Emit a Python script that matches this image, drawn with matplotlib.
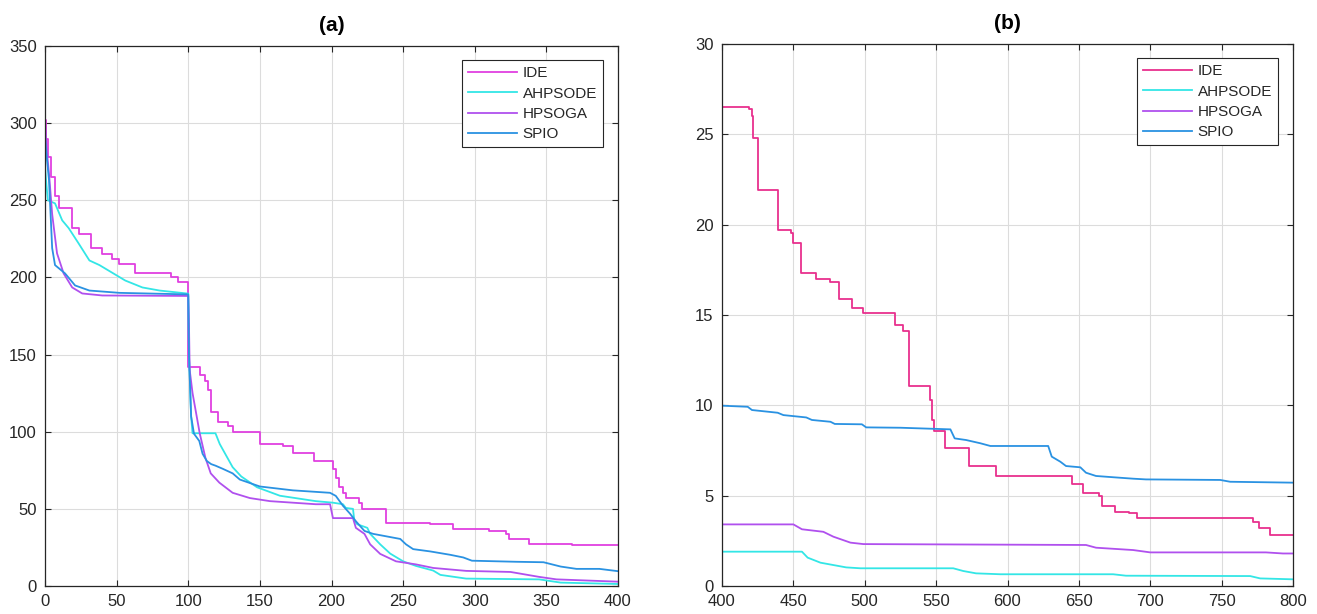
import matplotlib
matplotlib.use("Agg")
import matplotlib.pyplot as plt

plt.rcParams['font.family'] = ['Liberation Sans', 'DejaVu Sans']

series_names = ["IDE", "AHPSODE", "HPSOGA", "SPIO"]

# ---- panel (a): iterations 0-400 ----
ide_a_x = [0, 1, 2, 4, 7, 10, 19, 24, 32, 40, 47, 52, 63, 88, 93, 100, 108, 112, 114,
           116, 121, 128, 131, 150, 166, 173, 188, 201, 203, 205, 208, 210, 219, 221,
           238, 269, 285, 310, 322, 324, 338, 368, 400]
ide_a_y = [302, 290, 278, 265, 253, 245, 232, 228, 219, 215, 212, 209, 203, 200, 197,
           142, 137, 133, 127, 113, 106, 104, 100, 92, 91, 86, 81, 76, 70, 64, 60, 57,
           54, 50, 41, 40, 37, 35.5, 33.7, 30.4, 27.2, 26.4, 26.4]

ahp_a_x = [0, 1, 2, 7, 12, 16.5, 23.5, 31, 38, 47, 56, 68, 80, 100, 100.5, 102, 103,
           119, 122, 131, 137, 148, 164, 189, 201, 208, 210, 215, 216, 218, 225, 227,
           234, 241, 250, 259, 271, 276, 294, 345, 360, 400]
ahp_a_y = [272, 260, 250, 248, 237, 232, 222, 211, 208, 203, 198, 193.5, 191.5, 189.5,
           150, 110, 99, 99, 92, 77, 71, 64, 58.5, 55, 54, 53, 50.6, 50, 42, 40, 37.7,
           33.8, 27, 21, 16, 13, 10, 7.2, 4.8, 4.3, 2.2, 1.3]

hps_a_x = [0, 1, 3, 5, 8.4, 13, 19, 26, 40, 100, 100.5, 101, 103, 108, 112, 115.7,
           121.7, 131, 143, 157, 173, 189, 199, 201, 215, 217, 223, 227, 234, 245, 259,
           271, 294, 325, 345, 357, 400]
hps_a_y = [300, 285, 265, 241, 215.6, 202.6, 193.5, 189.6, 188.3, 188, 170, 140, 125,
           99, 83, 73, 67, 60.4, 57, 55, 54, 53, 53, 44, 44, 37.7, 33.8, 27, 20.8, 16,
           14, 11.7, 9.8, 9.1, 5.9, 4.3, 2.8]

spi_a_x = [0, 1, 2.8, 5, 7, 14, 21, 31, 52, 100, 100.5, 102, 104, 107.7, 110, 113, 116,
           119, 124, 131, 136, 150, 173, 199, 203, 208, 213, 217, 223, 229, 248, 252,
           257, 269, 283, 292, 298, 329, 348, 360, 371, 387, 400]
spi_a_y = [292, 280, 263, 219, 208, 202.6, 194.8, 191.5, 190, 189, 150, 110, 98.7, 94,
           85.7, 81, 79, 78, 76, 73, 69, 64.5, 62, 60.4, 58.4, 52, 46.8, 42, 35.7, 33.8,
           30.5, 27, 23.9, 22.4, 20.2, 18.5, 16.4, 15.7, 15.4, 12.6, 11.1, 11.1, 9.6]

# ---- panel (b): iterations 400-800 ----
ide_b_x = [400, 419, 420.8, 422, 425, 439, 448, 450, 455, 466, 476, 482, 491, 499, 521,
           527, 531, 546, 547, 548.5, 556, 573, 592, 645, 653, 664, 666, 675, 685, 691,
           772, 776, 784, 800]
ide_b_y = [26.5, 26.4, 26.0, 24.8, 21.9, 19.7, 19.55, 18.96, 17.3, 17.0, 16.84, 15.9,
           15.4, 15.13, 14.44, 14.1, 11.05, 10.3, 9.2, 8.6, 7.62, 6.64, 6.09, 5.66, 5.13,
           4.98, 4.44, 4.11, 4.06, 3.75, 3.56, 3.19, 2.82, 2.82]

ahp_b_x = [400, 456, 460, 469, 487, 497, 562, 569, 578, 595, 674, 683, 770, 777, 800]
ahp_b_y = [1.9, 1.9, 1.57, 1.29, 1.03, 0.98, 0.98, 0.83, 0.7, 0.65, 0.65, 0.57, 0.55,
           0.42, 0.37]

hps_b_x = [400, 450, 456, 471, 478, 490, 499, 655, 662, 688, 700, 781, 793, 800]
hps_b_y = [3.41, 3.41, 3.14, 3.0, 2.73, 2.4, 2.32, 2.27, 2.12, 1.99, 1.86, 1.86, 1.8, 1.8]

spi_b_x = [400, 418, 421, 439, 443, 459, 463, 476, 479, 498, 501, 525, 560, 563, 571,
           581, 588, 628.5, 631, 637, 641, 651, 655, 662, 674, 688, 697, 749, 756, 800]
spi_b_y = [9.98, 9.92, 9.74, 9.59, 9.46, 9.33, 9.19, 9.09, 8.97, 8.95, 8.78, 8.76, 8.67,
           8.17, 8.08, 7.9, 7.75, 7.75, 7.16, 6.88, 6.64, 6.57, 6.27, 6.09, 6.02, 5.94,
           5.9, 5.87, 5.77, 5.72]

col_ide_a = "#E040E0"
col_ide_b = "#E8308E"
col_ahp = "#33E6E6"
col_hps = "#B050EE"
col_spi = "#2A92E2"
ink = "#262626"

fig = plt.figure(figsize=(13.17, 6.14), dpi=100)
ax_a = fig.add_axes([45 / 1317, 1 - 586 / 614, 573 / 1317, 540 / 614])
ax_b = fig.add_axes([722 / 1317, 1 - 586 / 614, 571 / 1317, 542 / 614])

lw = 1.3


def style(ax, xlim, ylim, xticks, yticks, title):
    ax.set_xlim(*xlim)
    ax.set_ylim(*ylim)
    ax.set_xticks(xticks)
    ax.set_yticks(yticks)
    ax.grid(True, color="#DCDCDC", linewidth=0.8)
    ax.set_axisbelow(True)
    ax.tick_params(direction="in", top=True, right=True, length=4, width=0.8,
                   labelsize=12, colors=ink, pad=6)
    for s in ax.spines.values():
        s.set_color(ink)
        s.set_linewidth(0.9)
    ax.set_title(title, fontsize=15, fontweight="bold", pad=11)


ax_a.plot(ide_a_x, ide_a_y, color=col_ide_a, lw=lw, drawstyle="steps-post", label=series_names[0])
ax_a.plot(ahp_a_x, ahp_a_y, color=col_ahp, lw=lw, label=series_names[1])
ax_a.plot(hps_a_x, hps_a_y, color=col_hps, lw=lw, label=series_names[2])
ax_a.plot(spi_a_x, spi_a_y, color=col_spi, lw=lw, label=series_names[3])
style(ax_a, (0, 400), (0, 350), range(0, 401, 50), range(0, 351, 50), "(a)")

ax_b.plot(ide_b_x, ide_b_y, color=col_ide_b, lw=lw, drawstyle="steps-post", label=series_names[0])
ax_b.plot(ahp_b_x, ahp_b_y, color=col_ahp, lw=lw, label=series_names[1])
ax_b.plot(hps_b_x, hps_b_y, color=col_hps, lw=lw, label=series_names[2])
ax_b.plot(spi_b_x, spi_b_y, color=col_spi, lw=lw, label=series_names[3])
style(ax_b, (400, 800), (0, 30), range(400, 801, 50), range(0, 31, 5), "(b)")

for ax, (w, h) in ((ax_a, (573, 540)), (ax_b, (571, 542))):
    leg = ax.legend(loc="upper right", bbox_to_anchor=(1 - 15 / w, 1 - 14 / h),
                    borderaxespad=0, fancybox=False, framealpha=1, fontsize=11,
                    handlelength=3.2, handletextpad=0.35, labelspacing=0.42,
                    borderpad=0.4)
    leg.get_frame().set_edgecolor(ink)
    leg.get_frame().set_linewidth(0.8)
    for t in leg.get_texts():
        t.set_color(ink)

fig.savefig("out.png", dpi=100)
